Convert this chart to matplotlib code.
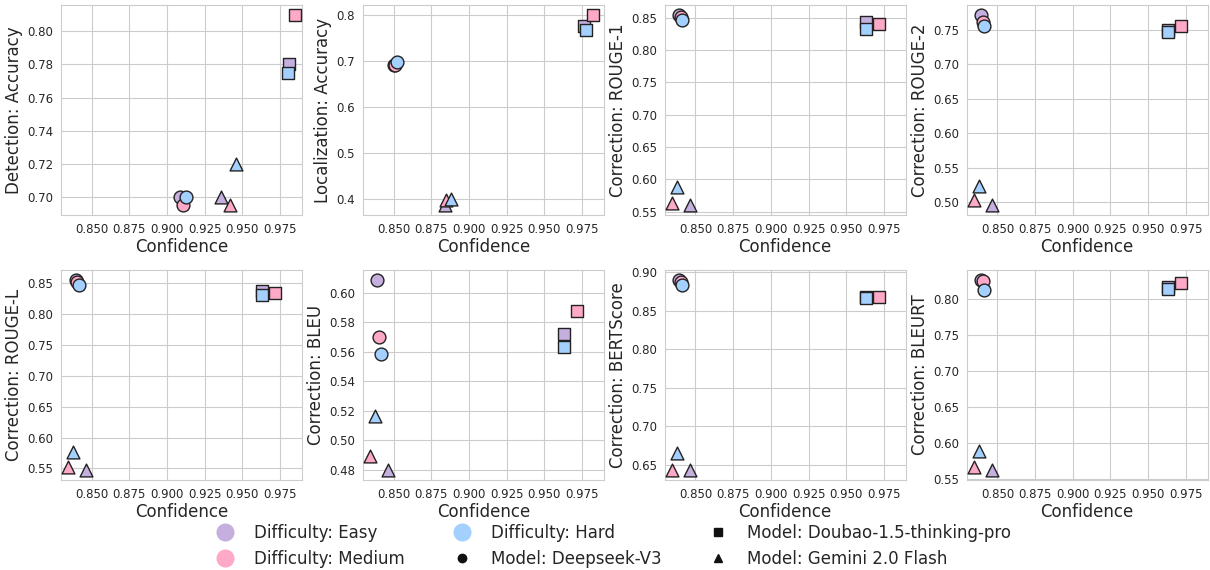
import matplotlib
matplotlib.use("Agg")
import matplotlib.pyplot as plt
from matplotlib.lines import Line2D
from matplotlib.ticker import MultipleLocator
import seaborn as sns

sns.set_style("whitegrid")
plt.rcParams['font.family'] = ['DejaVu Sans']

models = ["Deepseek-V3", "Doubao-1.5-thinking-pro", "Gemini 2.0 Flash"]
difficulties = ["Easy", "Medium", "Hard"]

# Confidence per task: rows = models, cols = Easy, Medium, Hard
conf_detection = [[0.9088, 0.9106, 0.9128],
                  [0.9810, 0.9850, 0.9800],
                  [0.9355, 0.9417, 0.9457]]
conf_localization = [[0.8505, 0.8510, 0.8525],
                     [0.9765, 0.9825, 0.9777],
                     [0.8844, 0.8850, 0.8883]]
conf_correction = [[0.8393, 0.8405, 0.8413],
                   [0.9633, 0.9718, 0.9632],
                   [0.8462, 0.8345, 0.8378]]

detection_acc = [[0.700, 0.695, 0.700],
                 [0.780, 0.810, 0.775],
                 [0.700, 0.695, 0.720]]
localization_acc = [[0.692, 0.690, 0.697],
                    [0.776, 0.800, 0.766],
                    [0.387, 0.399, 0.400]]
rouge1 = [[0.855, 0.852, 0.847],
          [0.843, 0.841, 0.833],
          [0.5597, 0.563, 0.5875]]
rouge2 = [[0.772, 0.762, 0.756],
          [0.750, 0.7558, 0.7465],
          [0.495, 0.503, 0.5236]]
rougeL = [[0.8554, 0.8516, 0.846],
          [0.8378, 0.834, 0.830],
          [0.5468, 0.5516, 0.576]]
bleu = [[0.6088, 0.5699, 0.5586],
        [0.5717, 0.5879, 0.5629],
        [0.4797, 0.4892, 0.5166]]
bertscore = [[0.890, 0.8875, 0.8827],
             [0.867, 0.868, 0.8665],
             [0.6435, 0.6426, 0.665]]
bleurt = [[0.8275, 0.826, 0.8137],
          [0.817, 0.8224, 0.8142],
          [0.5625, 0.5670, 0.5889]]

panels = [
    ("Detection: Accuracy", conf_detection, detection_acc, 0.02),
    ("Localization: Accuracy", conf_localization, localization_acc, 0.1),
    ("Correction: ROUGE-1", conf_correction, rouge1, 0.05),
    ("Correction: ROUGE-2", conf_correction, rouge2, 0.05),
    ("Correction: ROUGE-L", conf_correction, rougeL, 0.05),
    ("Correction: BLEU", conf_correction, bleu, 0.02),
    ("Correction: BERTScore", conf_correction, bertscore, 0.05),
    ("Correction: BLEURT", conf_correction, bleurt, 0.05),
]

diff_colors = {"Easy": "#C5AFDF", "Medium": "#FFA9C8", "Hard": "#A3D0FF"}
model_markers = {"Deepseek-V3": "o", "Doubao-1.5-thinking-pro": "s", "Gemini 2.0 Flash": "^"}

fig, axes = plt.subplots(2, 4, figsize=(12.1, 5.7), dpi=100)
fig.subplots_adjust(left=0.0504, right=0.998, top=0.991, bottom=0.158,
                    wspace=0.253, hspace=0.263)

for ax, (label, conf, vals, ystep) in zip(axes.flat, panels):
    for mi, m in enumerate(models):
        for di, d in enumerate(difficulties):
            ax.scatter(conf[mi][di], vals[mi][di], s=85, marker=model_markers[m],
                       color=diff_colors[d], edgecolor="#222222", linewidth=1.0,
                       zorder=3)
    ax.set_xlim(0.8296, 0.9895)
    ax.set_xticks([0.850, 0.875, 0.900, 0.925, 0.950, 0.975])
    ax.set_xticklabels(["0.850", "0.875", "0.900", "0.925", "0.950", "0.975"])
    ax.yaxis.set_major_locator(MultipleLocator(ystep))
    ax.set_xlabel("Confidence", fontsize=12, labelpad=2)
    ax.set_ylabel(label, fontsize=12, labelpad=3)
    ax.tick_params(axis="both", labelsize=8.5, pad=2)

handles = []
for d in difficulties:
    handles.append(Line2D([], [], linestyle="none", marker="o", markersize=12,
                          color=diff_colors[d], label=f"Difficulty: {d}"))
for m in models:
    handles.append(Line2D([], [], linestyle="none", marker=model_markers[m], markersize=6,
                          color="#111111", label=f"Model: {m}"))

fig.legend(handles=handles, loc="lower center", ncol=3, frameon=False,
           fontsize=12, bbox_to_anchor=(0.504, -0.022), columnspacing=2.4,
           handletextpad=0.74, labelspacing=0.45)

fig.savefig("out.png", dpi=100)
